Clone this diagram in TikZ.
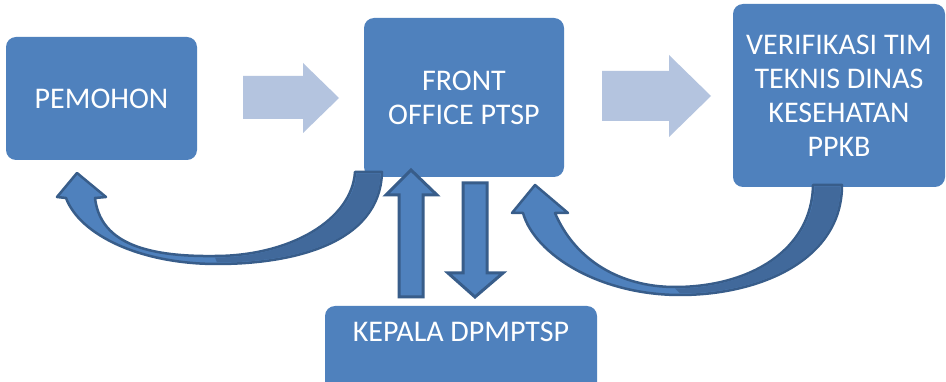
\documentclass[tikz,border=0pt]{standalone}
\usepackage{fontspec}
\setmainfont{Carlito}
\definecolor{boxblue}{HTML}{4F81BD}
\definecolor{edgeblue}{HTML}{385D8A}
\definecolor{darkblue}{HTML}{41699B}
\definecolor{lightarrow}{HTML}{B4C4DF}
\begin{document}
\begin{tikzpicture}[x=1pt,y=-1pt,
  box/.style={fill=boxblue, rounded corners=10pt, inner sep=0pt, outer sep=0pt,
    text=white, font=\fontsize{30}{34}\selectfont, align=center},
  txt/.style={text=white, font=\fontsize{30}{34}\selectfont, align=center, inner sep=0pt},
  flatarrow/.style={fill=lightarrow},
  blockarrow/.style={fill=boxblue, draw=edgeblue, line width=3pt, line join=miter},
  curvearrow/.style={fill=boxblue, draw=edgeblue, line width=2.5pt, line join=round},
  curveshade/.style={fill=darkblue}]
\clip (0,0) rectangle (946,382);
\fill[white] (0,0) rectangle (946,382);
% boxes
\node[box, minimum width=191pt, minimum height=123pt] (pemohon) at (101.5,98.5) {PEMOHON};
\node[box, minimum width=200pt, minimum height=159pt] (front) at (464,97.5) {FRONT\\OFFICE PTSP};
\node[box, minimum width=212pt, minimum height=183pt] (verif) at (839,95.5) {VERIFIKASI TIM\\TEKNIS DINAS\\KESEHATAN\\PPKB};
\node[box, minimum width=272pt, minimum height=100pt] (kepala) at (461,356) {};
\node[txt] (kepalatext) at (461,332) {KEPALA DPMPTSP};
% light block arrows
\path[flatarrow] (243,76) -- (303,76) -- (303,63) -- (339,98) -- (303,133) -- (303,119) -- (243,119) -- cycle;
\path[flatarrow] (602,71) -- (669,71) -- (669,55) -- (711,96) -- (669,137) -- (669,121) -- (602,121) -- cycle;
% up and down block arrows
\draw[blockarrow] (399,297) -- (399,195) -- (386,195) -- (411,170) -- (437,195) -- (423,195) -- (423,297) -- cycle;
\draw[blockarrow] (463,183) -- (487,183) -- (487,273) -- (503,273) -- (475,297) -- (448,273) -- (463,273) -- cycle;
% left curved arrow (front office -> pemohon)
\draw[curvearrow] (355,172) -- (382,172)
  .. controls (380,245) and (290,264) .. (217,264)
  .. controls (140,264) and (80,235) .. (66,198)
  -- (57,197) -- (77,173) -- (106,197) -- (95,198)
  .. controls (100,240) and (140,257) .. (215,256)
  .. controls (290,256) and (352,220) .. (355,172) -- cycle;
\fill[curveshade] (356.5,173.5) -- (380.5,173.5)
  .. controls (378.5,244) and (290,262.5) .. (217,262.5)
  -- (215,257.5)
  .. controls (290,257.5) and (353.5,220) .. (356.5,173.5) -- cycle;
% right curved arrow (verifikasi -> front office)
\draw[curvearrow] (813,185) -- (842,185)
  .. controls (842,260) and (760,295) .. (680,295)
  .. controls (600,295) and (535,255) .. (523,213)
  -- (512,213) -- (535,185) -- (568,213) -- (555,213)
  .. controls (575,260) and (620,287) .. (675,287)
  .. controls (750,287) and (812,250) .. (813,185) -- cycle;
\fill[curveshade] (814.5,186.5) -- (840.5,186.5)
  .. controls (840.5,259) and (760,293.5) .. (680,293.5)
  -- (675,288.5)
  .. controls (750,288.5) and (813.5,250) .. (814.5,186.5) -- cycle;
\end{tikzpicture}
\end{document}
